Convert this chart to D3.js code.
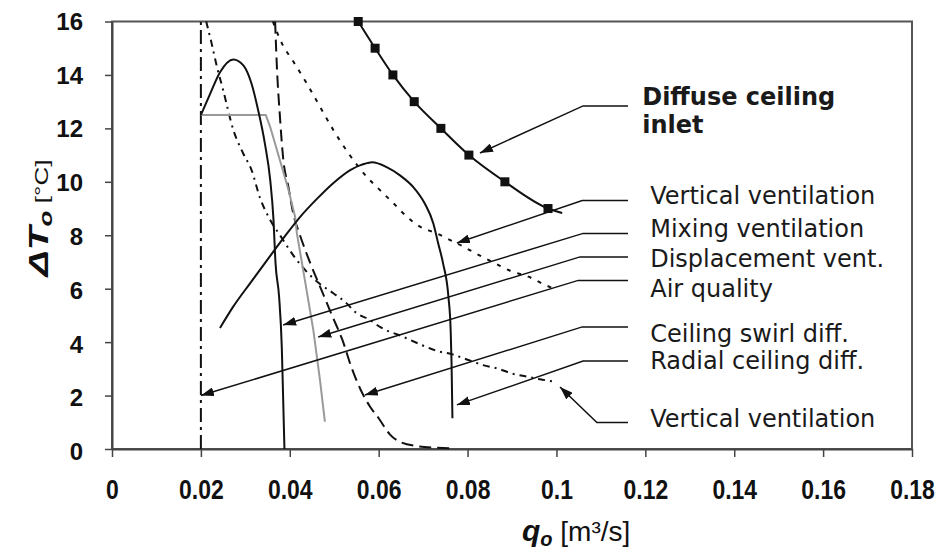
<!DOCTYPE html>
<html>
<head>
<meta charset="utf-8">
<script src="https://cdn.jsdelivr.net/npm/d3@7"></script>
<style>
  body { margin: 0; background: #fff; }
  svg { display: block; }
</style>
</head>
<body>
<div id="chart"></div>
<script>
// Axis ticks
var qTicks = [0, 0.02, 0.04, 0.06, 0.08, 0.1, 0.12, 0.14, 0.16, 0.18];
var tTicks = [0, 2, 4, 6, 8, 10, 12, 14, 16];

// Diffuse ceiling inlet (solid with square markers)
var diffuseQ = [0.0554, 0.0592, 0.0632, 0.0680, 0.0740, 0.0803, 0.0884, 0.0981, 0.1013];
var diffuseT = [16, 15, 14, 13, 12, 11, 10, 9, 8.83];
var diffuseMarked = 8; // first 8 points carry a marker

// Mixing ventilation (solid bell)
var mixingQ = [0.0200, 0.0221, 0.0243, 0.0273, 0.0296, 0.0314, 0.0329, 0.0344, 0.0356, 0.0363, 0.0368, 0.0376, 0.0382, 0.0385, 0.0388];
var mixingT = [12.5, 13.3, 14.1, 14.58, 14.35, 13.67, 12.67, 11.43, 10.06, 8.68, 6.94, 5.69, 3.82, 1.95, 0.0];

// Displacement vent. (grey)
var displQ = [0.0200, 0.0346, 0.0356, 0.0378, 0.0397, 0.0412, 0.0416, 0.0434, 0.0453, 0.0468, 0.0479];
var displT = [12.5, 12.5, 12.05, 10.8, 9.7, 8.69, 8.07, 6.32, 4.45, 2.58, 1.02];

// Air quality (dash-dot vertical)
var airQ = [0.02, 0.02];
var airT = [0, 16];

// Ceiling swirl diff. (long dashes)
var swirlQ = [0.0367, 0.0371, 0.0378, 0.0385, 0.0397, 0.0408, 0.0423, 0.0445, 0.0470, 0.0495, 0.0518, 0.0540, 0.0560, 0.0580, 0.0600, 0.0625, 0.0650, 0.0690, 0.0730, 0.0770];
var swirlT = [16, 14.3, 12.4, 10.9, 9.8, 8.8, 8.0, 7.0, 6.0, 5.0, 4.1, 3.0, 2.2, 1.6, 1.15, 0.55, 0.25, 0.1, 0.05, 0.02];

// Radial ceiling diff. (solid bell)
var radialQ = [0.0243, 0.0272, 0.0311, 0.0349, 0.0387, 0.0423, 0.0461, 0.0497, 0.0536, 0.0574, 0.0585, 0.0618, 0.0648, 0.0678, 0.0704, 0.0723, 0.0734, 0.0745, 0.0757, 0.0762, 0.0764, 0.0766];
var radialT = [4.53, 5.31, 6.21, 7.07, 7.92, 8.68, 9.36, 9.94, 10.44, 10.7, 10.73, 10.55, 10.24, 9.8, 9.18, 8.44, 7.69, 6.94, 5.69, 4.45, 3.2, 1.15];

// Vertical ventilation, upper (dotted)
var vertAQ = [0.0362, 0.0382, 0.0408, 0.0438, 0.0468, 0.0498, 0.0532, 0.0573, 0.0603, 0.0633, 0.0663, 0.0693, 0.0731, 0.0761, 0.0776, 0.0832, 0.0862, 0.0896, 0.0937, 0.0967, 0.0997];
var vertAT = [16, 15.19, 14.5, 13.69, 12.81, 11.94, 11.07, 10.19, 9.69, 9.2, 8.7, 8.32, 8.07, 7.82, 7.7, 7.2, 6.95, 6.67, 6.45, 6.2, 5.98];

// Vertical ventilation, lower (dash-dot)
var vertBQ = [0.0212, 0.0224, 0.0236, 0.0250, 0.0273, 0.0295, 0.0314, 0.0333, 0.0356, 0.0380, 0.0410, 0.0440, 0.0470, 0.0498, 0.0528, 0.0547, 0.0581, 0.0603, 0.0655, 0.0697, 0.0731, 0.0764, 0.0802, 0.0835, 0.0866, 0.0899, 0.0937, 0.0963, 0.0997];
var vertBT = [16, 15.19, 14.31, 13.44, 11.94, 11.07, 10.44, 9.4, 8.57, 7.95, 7.2, 6.6, 6.15, 5.83, 5.45, 5.13, 4.82, 4.57, 4.2, 3.89, 3.67, 3.55, 3.33, 3.14, 3.02, 2.83, 2.7, 2.61, 2.52];

// Annotations
var labelLines = [["Diffuse ceiling", "inlet"], ["Vertical ventilation"], ["Mixing ventilation"], ["Displacement vent."],
                  ["Air quality"], ["Ceiling swirl diff."], ["Radial ceiling diff."], ["Vertical ventilation"]];
var labelBold = [true, false, false, false, false, false, false, false];
var labelQ = [0.1193, 0.1211, 0.1211, 0.1211, 0.1211, 0.1211, 0.1211, 0.1211];
var labelT = [12.87, 9.17, 7.93, 6.81, 5.69, 4.01, 3.0, 0.82];
var leaderTipQ = [0.0828, 0.0776, 0.0385, 0.0464, 0.0200, 0.0569, 0.0776, 0.1008];
var leaderTipT = [11.08, 7.71, 4.64, 4.19, 2.0, 2.02, 1.65, 2.32];
var leaderKneeQ = [0.1060, 0.1058, 0.1060, 0.1053, 0.1049, 0.1058, 0.1060, 0.1091];
var leaderKneeT = [12.84, 9.30, 8.07, 7.19, 6.31, 4.57, 3.29, 0.99];
var leaderEndQ = 0.1161;

// Set the dimensions and margins of the graph
var margin = {top: 21.5, right: 29, bottom: 103, left: 112},
    width = 800,
    height = 427.5;

var svg = d3.select("#chart")
  .append("svg")
    .attr("width", 941)
    .attr("height", 552)
  .append("g")
    .attr("transform", `translate(${margin.left},${margin.top})`);

var x = d3.scaleLinear().domain([0, 0.18]).range([0, width]);
var y = d3.scaleLinear().domain([0, 16]).range([height, 0]);
// the pasted y labels in the original sit a few pixels lower toward the bottom
var yLab = d3.scaleLinear().domain([0, 16]).range([height + 3, 0]);

// Arrow head for the leader lines
svg.append("defs").append("marker")
    .attr("id", "arrow")
    .attr("viewBox", "0 0 13 9")
    .attr("refX", 13)
    .attr("refY", 4.5)
    .attr("markerWidth", 13)
    .attr("markerHeight", 9)
    .attr("markerUnits", "userSpaceOnUse")
    .attr("orient", "auto")
  .append("path")
    .attr("d", "M0,0 L13,4.5 L0,9 Z")
    .attr("fill", "#111");

// Frame
svg.append("rect")
  .attr("width", width)
  .attr("height", height)
  .attr("fill", "none")
  .attr("stroke", "#555")
  .attr("stroke-width", 2);

// X axis
var xAxis = svg.append("g")
  .attr("transform", `translate(0,${height})`)
  .call(d3.axisBottom(x).tickValues(qTicks).tickSize(8).tickSizeOuter(0).tickPadding(22).tickFormat(d3.format("~g")));
xAxis.selectAll(".tick text")
  .attr("transform", "scale(0.82,1)")
  .attr("fill", "#111")
  .style("font-family", "'Liberation Sans', Arial, sans-serif")
  .style("font-weight", "bold")
  .style("font-size", "28px");

// Y axis (tick marks, then labels)
var yAxis = svg.append("g")
  .call(d3.axisLeft(y).tickValues(tTicks).tickSize(7).tickSizeOuter(0).tickFormat(""));
var yLabels = svg.append("g")
  .call(d3.axisLeft(yLab).tickValues(tTicks).tickSize(0).tickPadding(29));
yLabels.select(".domain").remove();
yLabels.selectAll(".tick text")
  .attr("fill", "#111")
  .style("font-family", "'Liberation Sans', Arial, sans-serif")
  .style("font-weight", "bold")
  .style("font-size", "24px");

[xAxis, yAxis].forEach(function(a) {
  a.select(".domain").attr("stroke", "#444").attr("stroke-width", 2);
  a.selectAll(".tick line").attr("stroke", "#444").attr("stroke-width", 1.5);
});

// Curves
function toPoints(qs, ts) {
  return qs.map((q, i) => ({q: q, t: ts[i]}));
}
var smooth = d3.line().x(d => x(d.q)).y(d => y(d.t)).curve(d3.curveMonotoneX);
var straight = d3.line().x(d => x(d.q)).y(d => y(d.t));

var curves = [
  {pts: toPoints(airQ, airT), line: straight, color: "#111", dash: "14,5,3,5"},
  {pts: toPoints(vertAQ, vertAT), line: smooth, color: "#111", dash: "4,7"},
  {pts: toPoints(vertBQ, vertBT), line: smooth, color: "#111", dash: "7,5,2,5"},
  {pts: toPoints(swirlQ, swirlT), line: smooth, color: "#111", dash: "12,6"},
  {pts: toPoints(displQ, displT), line: straight, color: "#999", dash: null},
  {pts: toPoints(mixingQ, mixingT), line: smooth, color: "#111", dash: null},
  {pts: toPoints(radialQ, radialT), line: smooth, color: "#111", dash: null},
  {pts: toPoints(diffuseQ, diffuseT), line: smooth, color: "#111", dash: null}
];

curves.forEach(function(c) {
  svg.append("path")
    .attr("fill", "none")
    .attr("stroke", c.color)
    .attr("stroke-width", 2)
    .attr("stroke-dasharray", c.dash)
    .attr("d", c.line(c.pts));
});

// Square markers on the diffuse ceiling inlet curve
svg.selectAll(".sq")
  .data(toPoints(diffuseQ, diffuseT).slice(0, diffuseMarked))
  .enter().append("rect")
    .attr("class", "sq")
    .attr("x", d => x(d.q) - 4.5)
    .attr("y", d => y(d.t) - 4.5)
    .attr("width", 9)
    .attr("height", 9)
    .attr("fill", "#111");

// Leader lines with arrow heads
labelLines.forEach(function(lines, i) {
  var path = [
    [x(leaderEndQ), y(leaderKneeT[i])],
    [x(leaderKneeQ[i]), y(leaderKneeT[i])],
    [x(leaderTipQ[i]), y(leaderTipT[i])]
  ];
  svg.append("path")
    .attr("fill", "none")
    .attr("stroke", "#111")
    .attr("stroke-width", 1.5)
    .attr("marker-end", "url(#arrow)")
    .attr("d", d3.line()(path));

  var txt = svg.append("text")
    .attr("x", x(labelQ[i]))
    .attr("y", y(labelT[i]))
    .attr("fill", "#1a1a1a")
    .style("font-family", "'DejaVu Sans', Verdana, sans-serif")
    .style("font-size", "24px")
    .style("font-weight", labelBold[i] ? "bold" : "normal");
  lines.forEach(function(s, k) {
    txt.append("tspan")
      .attr("x", x(labelQ[i]))
      .attr("dy", k === 0 ? 0 : 28)
      .text(s);
  });
});

// Y axis title
var yTitle = svg.append("text")
  .attr("transform", `translate(${48 - margin.left},${218 - margin.top}) rotate(-90) scale(1.45,1)`)
  .attr("text-anchor", "middle")
  .attr("fill", "#111")
  .style("font-family", "'Liberation Sans', Arial, sans-serif");
yTitle.append("tspan").style("font-weight", "bold").style("font-style", "italic").style("font-size", "27px").text("ΔT");
yTitle.append("tspan").style("font-weight", "bold").style("font-style", "italic").style("font-size", "18px").attr("dy", 4).text("o");
yTitle.append("tspan").style("font-size", "18px").attr("dy", -4).text(" [°C]");

// X axis title
var xTitle = svg.append("text")
  .attr("x", 522 - margin.left)
  .attr("y", 541 - margin.top)
  .attr("fill", "#111")
  .style("font-family", "'Liberation Sans', Arial, sans-serif");
xTitle.append("tspan").style("font-weight", "bold").style("font-style", "italic").style("font-size", "30px").text("q");
xTitle.append("tspan").style("font-weight", "bold").style("font-style", "italic").style("font-size", "20px").attr("dy", 5).text("o");
xTitle.append("tspan").style("font-size", "28px").attr("dy", -5).text(" [m³/s]");
</script>
</body>
</html>
